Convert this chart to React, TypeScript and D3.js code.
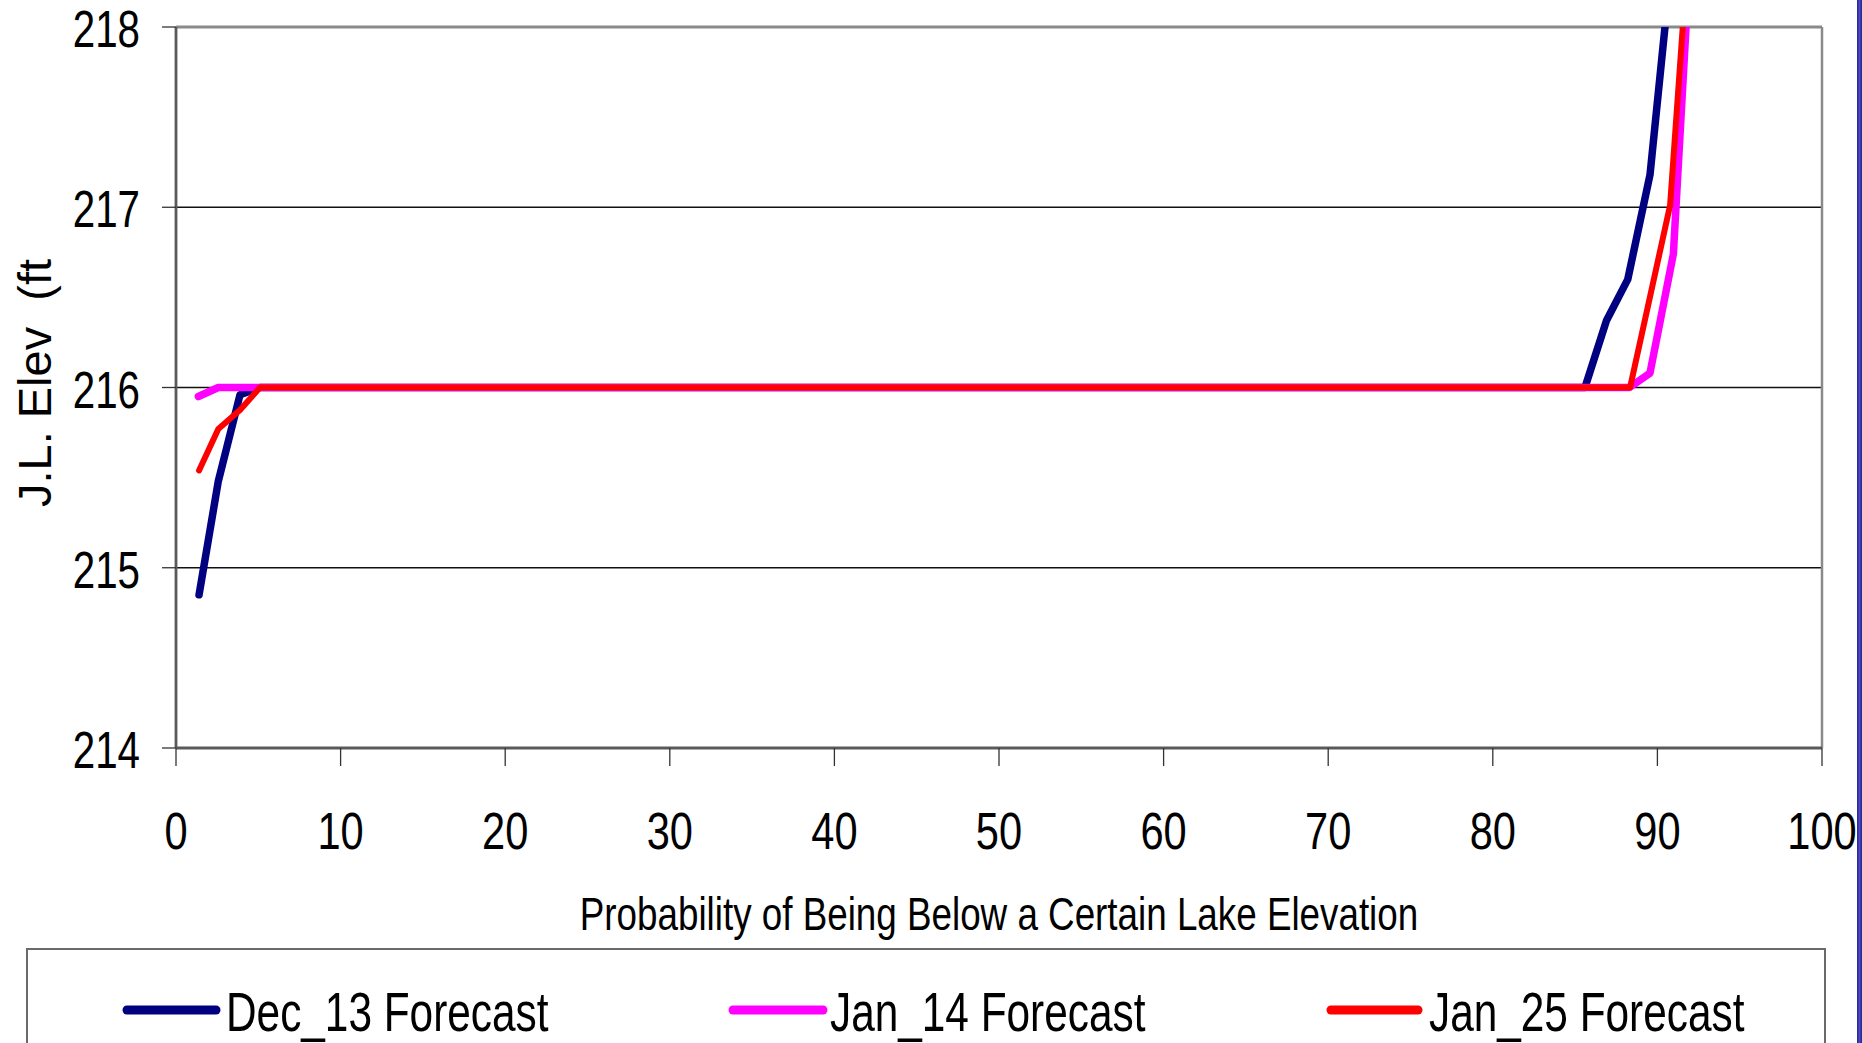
import React from "react";
import * as d3 from "d3";

const xTicks = [0, 10, 20, 30, 40, 50, 60, 70, 80, 90, 100];
const yTicks = [214, 215, 216, 217, 218];

const decX = [1.4, 2.57, 3.89, 5.1, 85.6, 86.9, 88.2, 89.55, 90.46];
const decY = [214.85, 215.48, 215.96, 216.0, 216.0, 216.37, 216.6, 217.18, 218.0];

const janAX = [1.36, 2.57, 88.3, 89.55, 90.97, 91.74];
const janAY = [215.95, 216.0, 216.0, 216.08, 216.74, 218.0];

const janBX = [1.4, 2.57, 3.89, 5.1, 88.34, 90.77, 91.54];
const janBY = [215.54, 215.77, 215.875, 216.0, 216.0, 217.01, 218.0];

const seriesNames = ["Dec_13 Forecast", "Jan_14 Forecast", "Jan_25 Forecast"];
const seriesColors = ["#000080", "#FF00FF", "#FF0000"];
const seriesWidths = [7.5, 7.5, 6];

const xTitle = "Probability of Being Below a Certain Lake Elevation";
const yTitle = "J.L. Elev  (ft";

const W = 1862;
const H = 1043;
const L = 176, R = 1822, T = 27, B = 748;
const FONT = "'Liberation Sans', Arial, sans-serif";

export default function App() {
  const x = d3.scaleLinear().domain([0, 100]).range([L, R]);
  const y = d3.scaleLinear().domain([214, 218]).range([B, T]);
  const line = d3
    .line<[number, number]>()
    .x((d) => x(d[0]))
    .y((d) => y(d[1]));

  const series = [
    d3.zip(decX, decY) as [number, number][],
    d3.zip(janAX, janAY) as [number, number][],
    d3.zip(janBX, janBY) as [number, number][],
  ];

  const legendSample = [
    [127, 216],
    [733, 823],
    [1331, 1418],
  ];
  const legendTextX = [226, 830, 1429];

  return (
    <svg
      width={W}
      height={H}
      style={{ position: "absolute", left: 0, top: 0, background: "#fff" }}
      fontFamily={FONT}
    >
      <defs>
        <clipPath id="plotclip">
          <rect x={L} y={T} width={R - L} height={B - T} />
        </clipPath>
      </defs>
      <rect x={0} y={0} width={W} height={H} fill="#fff" />

      {/* gridlines */}
      {yTicks
        .filter((v) => v !== 214 && v !== 218)
        .map((v) => (
          <line key={"g" + v} x1={L} x2={R} y1={y(v)} y2={y(v)} stroke="#111" strokeWidth={1.3} />
        ))}

      {/* frame */}
      <line x1={L} x2={R} y1={T} y2={T} stroke="#8a8a8a" strokeWidth={3} />
      <line x1={R} x2={R} y1={T} y2={B} stroke="#8a8a8a" strokeWidth={2.5} />
      <line x1={L} x2={L} y1={T} y2={B} stroke="#5a5a5a" strokeWidth={2.8} />
      <line x1={L} x2={R} y1={B} y2={B} stroke="#5a5a5a" strokeWidth={2.8} />

      {/* y ticks */}
      {yTicks.map((v) => (
        <g key={"yt" + v}>
          <line x1={L - 14} x2={L} y1={y(v)} y2={y(v)} stroke="#333" strokeWidth={1.3} />
          <text
            transform={`translate(140,${y(v) + 20}) scale(0.79,1)`}
            textAnchor="end"
            fontSize={51}
            fill="#000"
          >
            {v}
          </text>
        </g>
      ))}

      {/* x ticks */}
      {xTicks.map((v) => (
        <g key={"xt" + v}>
          <line x1={x(v)} x2={x(v)} y1={B} y2={B + 18} stroke="#333" strokeWidth={1.3} />
          <text
            transform={`translate(${x(v)},849) scale(0.8,1)`}
            textAnchor="middle"
            fontSize={52}
            fill="#000"
          >
            {v}
          </text>
        </g>
      ))}

      {/* series */}
      <g clipPath="url(#plotclip)">
        {series.map((s, i) => (
          <path
            key={"s" + i}
            d={line(s) || ""}
            fill="none"
            stroke={seriesColors[i]}
            strokeWidth={seriesWidths[i]}
            strokeLinecap="round"
            strokeLinejoin="round"
          />
        ))}
      </g>

      {/* axis titles */}
      <text
        transform={`translate(${(L + R) / 2},930) scale(0.8,1)`}
        textAnchor="middle"
        fontSize={46}
        fill="#000"
      >
        {xTitle}
      </text>
      <text
        transform={`translate(51,383) rotate(-90)`}
        textAnchor="middle"
        fontSize={47}
        fill="#000"
        style={{ whiteSpace: "pre" }}
      >
        {yTitle}
      </text>

      {/* legend */}
      <rect x={27} y={949} width={1798} height={140} fill="#fff" stroke="#6a6a6a" strokeWidth={2} />
      {seriesNames.map((n, i) => (
        <g key={"lg" + i}>
          <line
            x1={legendSample[i][0]}
            x2={legendSample[i][1]}
            y1={1010}
            y2={1010}
            stroke={seriesColors[i]}
            strokeWidth={9}
            strokeLinecap="round"
          />
          <text
            transform={`translate(${legendTextX[i]},1031) scale(0.77,1)`}
            fontSize={55}
            fill="#000"
          >
            {n}
          </text>
        </g>
      ))}

      {/* right edge bar */}
      <rect x={1857} y={0} width={5} height={H} fill="#2b2b9b" />
      <rect x={1858.5} y={0} width={2} height={H} fill="#4a4ac0" />
    </svg>
  );
}
